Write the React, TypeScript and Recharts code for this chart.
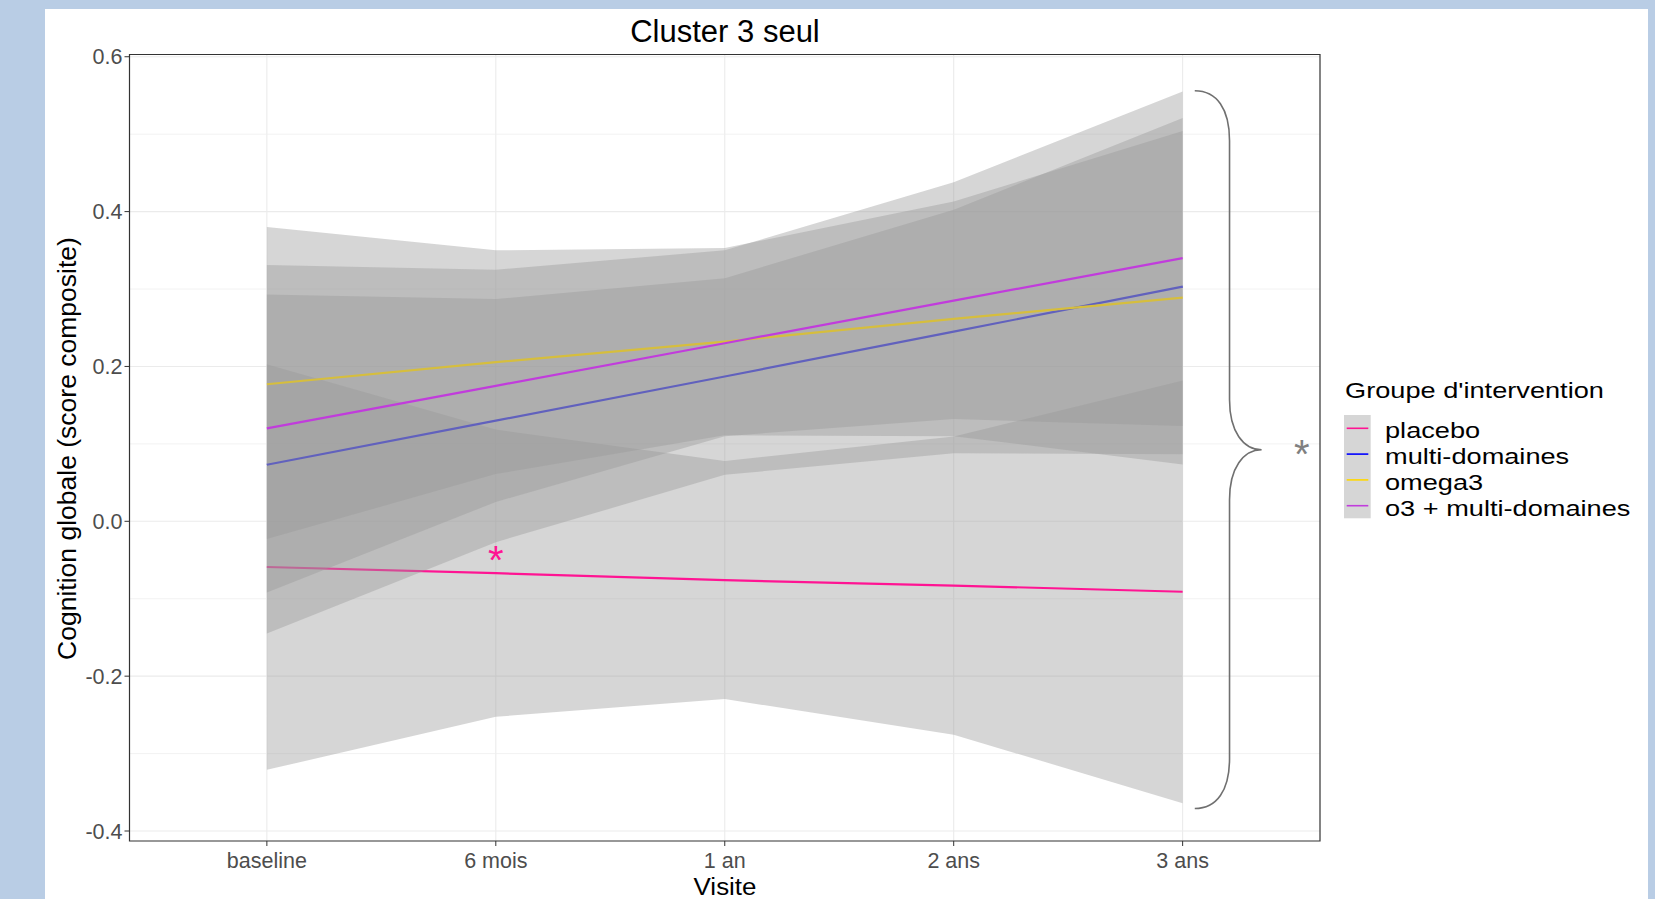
import React from "react";
import {
  ComposedChart,
  Area,
  Line,
  XAxis,
  YAxis,
  CartesianGrid,
  ReferenceArea,
  ReferenceDot,
} from "recharts";

// visites (axe x discret) et groupes
const visits = ["baseline", "6 mois", "1 an", "2 ans", "3 ans"];
const groups = ["placebo", "multi-domaines", "omega3", "o3 + multi-domaines"];
const groupColors = ["#FF1493", "#0000FF", "#FFD700", "#C13CDC"];

// droites ajustees + IC
const placeboFit = [-0.059, -0.067, -0.076, -0.083, -0.091];
const placeboLow = [-0.321, -0.2525, -0.2296, -0.2756, -0.364];
const placeboHigh = [0.203, 0.1185, 0.078, 0.1096, 0.182];

const multiFit = [0.073, 0.13, 0.187, 0.245, 0.303];
const multiLow = [-0.145, -0.027, 0.06, 0.088, 0.0865];
const multiHigh = [0.293, 0.287, 0.314, 0.4025, 0.521];

const omegaFit = [0.177, 0.2055, 0.232, 0.2615, 0.289];
const omegaLow = [-0.023, 0.061, 0.111, 0.11, 0.0735];
const omegaHigh = [0.38, 0.35, 0.353, 0.413, 0.504];

const comboFit = [0.12, 0.175, 0.23, 0.285, 0.34];
const comboLow = [-0.092, 0.025, 0.11, 0.132, 0.123];
const comboHigh = [0.331, 0.325, 0.35, 0.438, 0.555];

const yTicks = [-0.4, -0.2, 0, 0.2, 0.4, 0.6];
const yMinor = [-0.3, -0.1, 0.1, 0.3, 0.5];
const xTicks = visits.map((_, i) => i);

const fits = [placeboFit, multiFit, omegaFit, comboFit];
const lows = [placeboLow, multiLow, omegaLow, comboLow];
const highs = [placeboHigh, multiHigh, omegaHigh, comboHigh];

const data = visits.map((v, i) => {
  const row: any = { x: i, visit: v };
  groups.forEach((g, k) => {
    row["fit" + k] = fits[k][i];
    row["band" + k] = [lows[k][i], highs[k][i]];
  });
  return row;
});

// etoiles de significativite
const starPlacebo = { x: 1, y: -0.039 };
const starGlobal = { x: 4.52, y: 0.097 };
const brace = { x1: 4.053, x2: 4.345, y1: -0.371, y2: 0.556 };

const FONT = "Arial, 'Liberation Sans', sans-serif";

const Brace = (props: any) => {
  const { x, y, width, height } = props;
  const x0 = x;
  const xv = x + width * 0.52;
  const x1 = x + width;
  const yt = y;
  const yb = y + height;
  const ym = y + height / 2;
  const d =
    `M ${x0} ${yt} C ${x0 + 22} ${yt} ${xv} ${yt + 18} ${xv} ${yt + 50} ` +
    `L ${xv} ${ym - 50} C ${xv} ${ym - 18} ${xv + 14} ${ym} ${x1} ${ym} ` +
    `C ${xv + 14} ${ym} ${xv} ${ym + 18} ${xv} ${ym + 50} ` +
    `L ${xv} ${yb - 50} C ${xv} ${yb - 18} ${x0 + 22} ${yb} ${x0} ${yb}`;
  return <path d={d} fill="none" stroke="#707070" strokeWidth={1.6} />;
};

const Star = (color: string) => (props: any) => (
  <text
    x={props.cx}
    y={props.cy + 22}
    textAnchor="middle"
    fontSize={40}
    fontFamily={FONT}
    fill={color}
  >
    *
  </text>
);

export default function App() {
  return (
    <div style={{ position: "fixed", left: 0, top: 0, width: 1655, height: 899, background: "#B9CDE5" }}>
      <div style={{ position: "absolute", left: 45, top: 9, width: 1603, height: 890, background: "#FFFFFF" }} />
      <div style={{ position: "absolute", left: 0, top: 0 }}>
        <ComposedChart
          width={1655}
          height={899}
          data={data}
          margin={{ top: 54.5, right: 335, bottom: 28, left: 69.5 }}
        >
          <CartesianGrid
            stroke="#EBEBEB"
            strokeWidth={1.1}
            horizontalValues={yTicks}
            verticalValues={xTicks}
          />
          <CartesianGrid stroke="#EFEFEF" strokeWidth={0.8} horizontalValues={yMinor} vertical={false} />
          <XAxis
            dataKey="x"
            type="number"
            domain={[-0.6, 4.6]}
            allowDataOverflow
            ticks={xTicks}
            tickFormatter={(i: number) => visits[i]}
            height={30}
            axisLine={false}
            tickLine={{ stroke: "#333333" }}
            tickSize={5}
            tickMargin={7}
            tick={{ fill: "#4D4D4D", fontSize: 21.5, fontFamily: FONT }}
          />
          <YAxis
            type="number"
            domain={[-0.4129, 0.6029]}
            allowDataOverflow
            ticks={yTicks}
            tickFormatter={(v: number) => v.toFixed(1)}
            width={60}
            axisLine={false}
            tickLine={{ stroke: "#333333" }}
            tickSize={5}
            tickMargin={2}
            tick={{ fill: "#4D4D4D", fontSize: 21.5, fontFamily: FONT }}
          />
          {groups.map((g, k) => [
            <Area
              key={"a" + k}
              dataKey={"band" + k}
              type="linear"
              fill="#999999"
              fillOpacity={0.4}
              stroke="none"
              isAnimationActive={false}
              zIndex={100 + k * 2}
            />,
            <Line
              key={"l" + k}
              dataKey={"fit" + k}
              type="linear"
              stroke={groupColors[k]}
              strokeWidth={2.2}
              dot={false}
              activeDot={false}
              isAnimationActive={false}
              zIndex={101 + k * 2}
            />,
          ])}
          <ReferenceArea
            x1={brace.x1}
            x2={brace.x2}
            y1={brace.y1}
            y2={brace.y2}
            shape={Brace}
            ifOverflow="visible"
            zIndex={300}
          />
          <ReferenceDot x={starPlacebo.x} y={starPlacebo.y} shape={Star("#FF1493")} zIndex={301} />
          <ReferenceDot x={starGlobal.x} y={starGlobal.y} shape={Star("#808080")} zIndex={301} />
          <ReferenceArea
            x1={-0.6}
            x2={4.6}
            y1={-0.4129}
            y2={0.6029}
            fill="none"
            fillOpacity={0}
            stroke="#333333"
            strokeWidth={1.2}
            zIndex={302}
          />
        </ComposedChart>
      </div>
      <svg
        width={1655}
        height={899}
        style={{ position: "absolute", left: 0, top: 0, pointerEvents: "none" }}
        fontFamily={FONT}
      >
        <text x={725} y={42.3} textAnchor="middle" fontSize={31} fill="#000">
          Cluster 3 seul
        </text>
        <text transform="translate(725,895) scale(1.08,1)" textAnchor="middle" fontSize={24} fill="#000">
          Visite
        </text>
        <text transform="translate(76,448.5) rotate(-90)" textAnchor="middle" fontSize={26.5} fill="#000">
          Cognition globale (score composite)
        </text>
        <text transform="translate(1345,398.3) scale(1.235,1)" fontSize={22} fill="#000">
          Groupe d'intervention
        </text>
        <rect x={1344} y={415} width={26.7} height={103.3} fill="#D6D6D6" />
        {groups.map((g, k) => (
          <g key={g}>
            <line
              x1={1346.7}
              x2={1368.3}
              y1={428.3 + k * 25.8}
              y2={428.3 + k * 25.8}
              stroke={groupColors[k]}
              strokeWidth={1.6}
            />
            <text transform={`translate(1385,${438.3 + k * 25.8}) scale(1.235,1)`} fontSize={22} fill="#000">
              {g}
            </text>
          </g>
        ))}
      </svg>
    </div>
  );
}
